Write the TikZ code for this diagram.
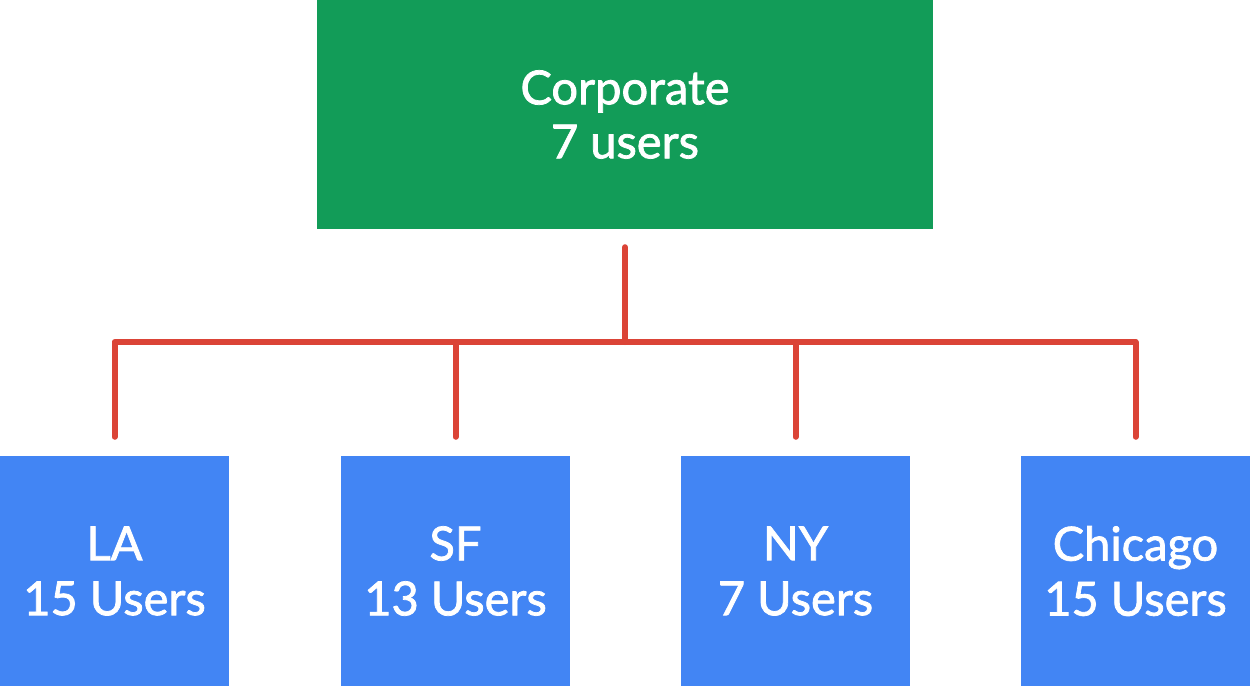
\documentclass[tikz,border=0pt]{standalone}
\usepackage{fontspec}
\setmainfont{Lato}
\newfontfamily\boxfont{Lato}[FakeBold=1.6]
\usepackage{tikz}
\usepackage{xcolor}
\definecolor{corp-green}{HTML}{129C58}
\definecolor{site-blue}{HTML}{4285F4}
\definecolor{link-red}{HTML}{DB4437}
\tikzset{
    corp-box/.style = {fill=corp-green, text=white, rectangle, inner sep=0pt, minimum width=616pt, minimum height=229pt, align=center, font=\boxfont\fontsize{47}{54}\selectfont},
    site-box/.style = {fill=site-blue, text=white, rectangle, inner sep=0pt, minimum width=229pt, minimum height=230pt, align=center, font=\boxfont\fontsize{47}{55}\selectfont},
    link-line/.style = {draw=link-red, line width=6pt, line cap=round, line join=round},
}

\begin{document}
\begin{tikzpicture}[x=1pt, y=-1pt]
\useasboundingbox (0,0) rectangle (1251,686);
\node [corp-box] (corporate) at (625,114.5) {Corporate\\7 users};
\node [site-box] (la) at (114.5,571) {LA\\15 Users};
\node [site-box] (sf) at (455.5,571) {SF\\13 Users};
\node [site-box] (ny) at (795.5,571) {NY\\7 Users};
\node [site-box] (chicago) at (1135.5,571) {Chicago\\15 Users};
\coordinate (bus) at (625,342);
\draw [link-line, shorten <=18pt] (corporate.south) -- (bus);
\draw [link-line, shorten >=19pt] (bus) -| (la.north);
\draw [link-line, shorten >=19pt] (bus) -| (sf.north);
\draw [link-line, shorten >=19pt] (bus) -| (ny.north);
\draw [link-line, shorten >=19pt] (bus) -| (chicago.north);
\end{tikzpicture}
\end{document}
